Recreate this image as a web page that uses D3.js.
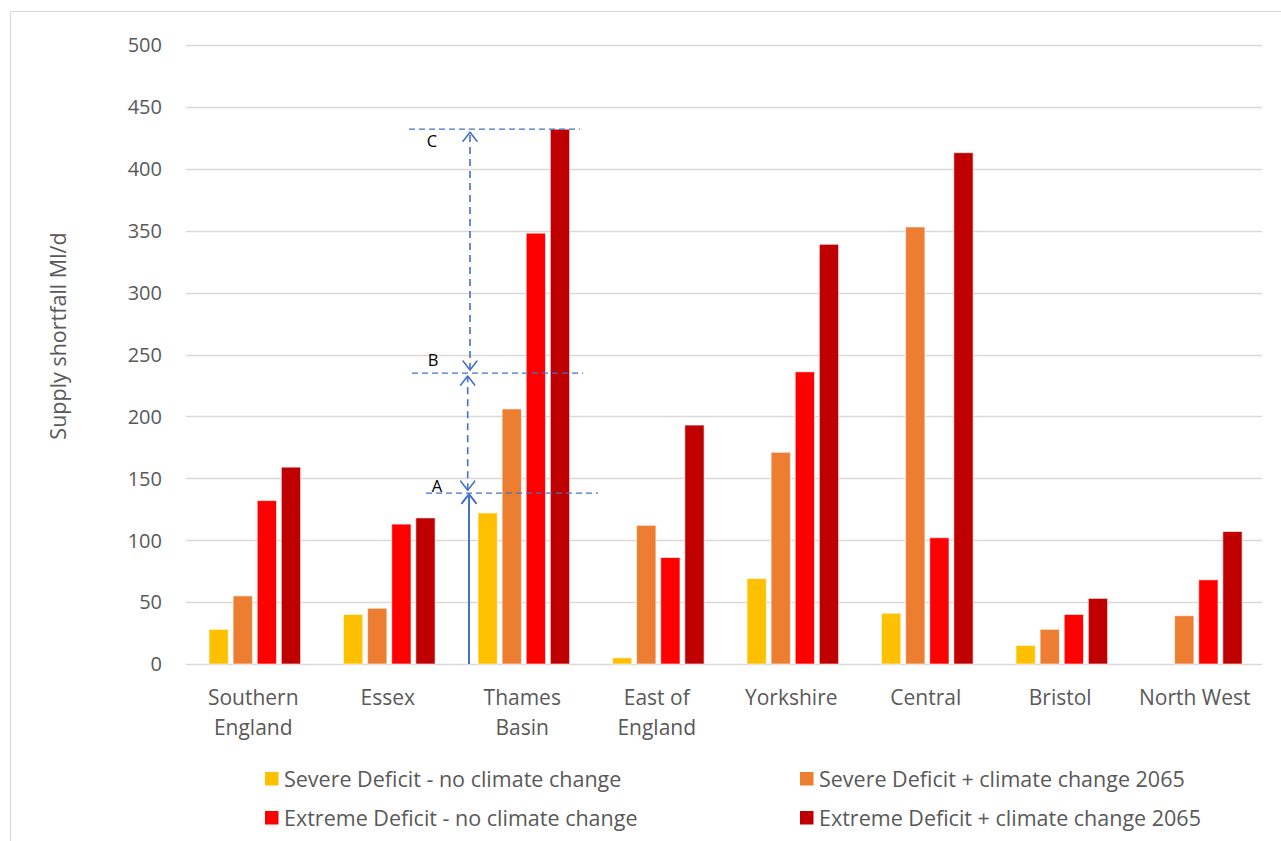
<!DOCTYPE html>
<html>
<head>
<meta charset="utf-8">
<script src="https://cdn.jsdelivr.net/npm/d3@7/dist/d3.min.js"></script>
<style>
  html, body { margin: 0; padding: 0; background: #fff; }
  svg { display: block; font-family: "Open Sans", "Noto Sans", sans-serif; }
</style>
</head>
<body>
<svg id="chart" width="1281" height="841"></svg>
<script>
// Regions and their two-line axis labels
const regions = ["Southern England", "Essex", "Thames Basin", "East of England", "Yorkshire", "Central", "Bristol", "North West"];
const regionLines = [["Southern", "England"], ["Essex"], ["Thames", "Basin"], ["East of", "England"], ["Yorkshire"], ["Central"], ["Bristol"], ["North West"]];

// Scenario series
const seriesNames = [
  "Severe Deficit - no climate change",
  "Severe Deficit + climate change 2065",
  "Extreme Deficit - no climate change",
  "Extreme Deficit + climate change 2065"
];
const seriesColors = ["#FFC000", "#ED7D31", "#FF0000", "#C00000"];

// Supply shortfall, Ml/d, per region
const severeNoCC     = [28, 40, 122, 5, 69, 41, 15, 0];
const severeCC2065   = [55, 45, 206, 112, 171, 353, 28, 39];
const extremeNoCC    = [132, 113, 348, 86, 236, 102, 40, 68];
const extremeCC2065  = [159, 118, 432, 193, 339, 413, 53, 107];
const seriesValues = [severeNoCC, severeCC2065, extremeNoCC, extremeCC2065];

// Y axis ticks
const yTicks = [0, 50, 100, 150, 200, 250, 300, 350, 400, 450, 500];

// Thames Basin step annotation levels (Ml/d)
const stepLevels = [
  { label: "A", value: 138 },
  { label: "B", value: 235 },
  { label: "C", value: 432 }
];
const stepRegion = "Thames Basin";

const svg = d3.select("#chart");
const margin = { left: 186, right: 1262, top: 45, bottom: 664 };

// Outer chart frame
svg.append("rect")
  .attr("x", 10.5).attr("y", 11.5)
  .attr("width", 1300).attr("height", 900)
  .attr("fill", "none").attr("stroke", "#D9D9D9").attr("stroke-width", 1);

const y = d3.scaleLinear().domain([0, 500]).range([margin.bottom, margin.top]);
const x = d3.scaleBand().domain(regions).range([margin.left, margin.right]);
const xInner = d3.scaleBand().domain(d3.range(seriesNames.length))
  .range([23, 23 + 91.6]).paddingInner(0.2).paddingOuter(0);

// Gridlines
svg.append("g").selectAll("line")
  .data(yTicks)
  .join("line")
  .attr("x1", margin.left).attr("x2", margin.right)
  .attr("y1", d => Math.round(y(d)) + 0.5).attr("y2", d => Math.round(y(d)) + 0.5)
  .attr("stroke", "#D9D9D9").attr("stroke-width", 1.5);

// Y axis labels
const yAxis = d3.axisLeft(y).tickValues(yTicks).tickSize(0).tickPadding(0);
const yg = svg.append("g").attr("transform", "translate(162,0)").call(yAxis);
yg.select(".domain").remove();
yg.selectAll("text")
  .attr("fill", "#595959")
  .style("font-size", "20px")
  .style("font-family", "'Open Sans', sans-serif")
  .attr("dy", "0.34em");

// Y axis title
svg.append("text")
  .attr("transform", "translate(66,336) rotate(-90)")
  .attr("text-anchor", "middle")
  .attr("fill", "#595959")
  .style("font-size", "21.5px")
  .text("Supply shortfall Ml/d");

// Bars
const groups = svg.append("g").selectAll("g")
  .data(regions)
  .join("g")
  .attr("transform", d => `translate(${x(d)},0)`);

groups.selectAll("rect")
  .data((r, i) => seriesValues.map((vals, s) => ({ s, v: vals[i] })))
  .join("rect")
  .filter(d => d.v > 0)
  .attr("x", d => xInner(d.s))
  .attr("width", xInner.bandwidth())
  .attr("y", d => y(d.v))
  .attr("height", d => y(0) - y(d.v))
  .attr("fill", d => seriesColors[d.s])
  .attr("stroke", "#ffffff")
  .attr("stroke-opacity", 0.6)
  .attr("stroke-width", 1);

// Category labels
const catLabels = svg.append("g").selectAll("text")
  .data(regions)
  .join("text")
  .attr("x", d => x(d) + x.bandwidth() / 2)
  .attr("y", 705)
  .attr("text-anchor", "middle")
  .attr("fill", "#595959")
  .style("font-size", "21px");
catLabels.each(function (d, i) {
  d3.select(this).selectAll("tspan")
    .data(regionLines[i])
    .join("tspan")
    .attr("x", x(d) + x.bandwidth() / 2)
    .attr("dy", (t, j) => j === 0 ? 0 : 30)
    .text(t => t);
});

// Step annotation on Thames Basin
const blue = "#4472C4";
const bx = x(stepRegion);
const ann = svg.append("g");
const lineExtents = { A: [-29, 143], B: [-43, 128], C: [-46, 125] };
stepLevels.forEach(lv => {
  const yy = y(lv.value);
  ann.append("line")
    .attr("x1", bx + lineExtents[lv.label][0]).attr("x2", bx + lineExtents[lv.label][1])
    .attr("y1", yy).attr("y2", yy)
    .attr("stroke", blue).attr("stroke-width", 1.3)
    .attr("stroke-dasharray", "6,4");
});
const labelPos = { A: [-18, -7], B: [-22, -13], C: [-23, 12] };
stepLevels.forEach(lv => {
  ann.append("text")
    .attr("x", bx + labelPos[lv.label][0])
    .attr("y", y(lv.value) + labelPos[lv.label][1])
    .attr("dy", "0.35em")
    .attr("text-anchor", "middle")
    .attr("fill", "#000")
    .style("font-size", "16.5px")
    .text(lv.label);
});

function arrowHead(g, cx, tipY, dir, width) {
  // dir = -1 points up, +1 points down
  const h = 9, w = 7;
  g.append("path")
    .attr("d", `M${cx - w},${tipY - dir * h} L${cx},${tipY} L${cx + w},${tipY - dir * h}`)
    .attr("fill", "none").attr("stroke", blue).attr("stroke-width", width)
    .attr("stroke-linejoin", "round").attr("stroke-linecap", "round");
}

// Solid arrow from zero up to A
const ax0 = bx + 14;
ann.append("line")
  .attr("x1", ax0).attr("x2", ax0)
  .attr("y1", y(0)).attr("y2", y(stepLevels[0].value) + 1)
  .attr("stroke", blue).attr("stroke-width", 2);
arrowHead(ann, ax0, y(stepLevels[0].value) + 1, -1, 2);

// Dashed double arrows A-B and B-C
const dashedX = [bx + 12.7, bx + 15];
[[0, 1], [1, 2]].forEach(([lo, hi], k) => {
  const cx = dashedX[k];
  const yLo = y(stepLevels[lo].value) - 3;
  const yHi = y(stepLevels[hi].value) + 3;
  ann.append("line")
    .attr("x1", cx).attr("x2", cx)
    .attr("y1", yLo).attr("y2", yHi)
    .attr("stroke", blue).attr("stroke-width", 1.6)
    .attr("stroke-dasharray", "7,5");
  arrowHead(ann, cx, yLo, 1, 1.6);
  arrowHead(ann, cx, yHi, -1, 1.6);
});

// Legend
const legendPos = [[265, 779], [800, 779], [265, 818], [800, 818]];
const legend = svg.append("g").selectAll("g")
  .data(seriesNames)
  .join("g")
  .attr("transform", (d, i) => `translate(${legendPos[i][0]},${legendPos[i][1]})`);
legend.append("rect")
  .attr("x", 0).attr("y", -7).attr("width", 13.5).attr("height", 13.5)
  .attr("fill", (d, i) => seriesColors[i]);
legend.append("text")
  .attr("x", 19).attr("y", 0).attr("dy", "0.35em")
  .attr("fill", "#595959")
  .style("font-size", "21.5px")
  .text(d => d);
</script>
</body>
</html>
